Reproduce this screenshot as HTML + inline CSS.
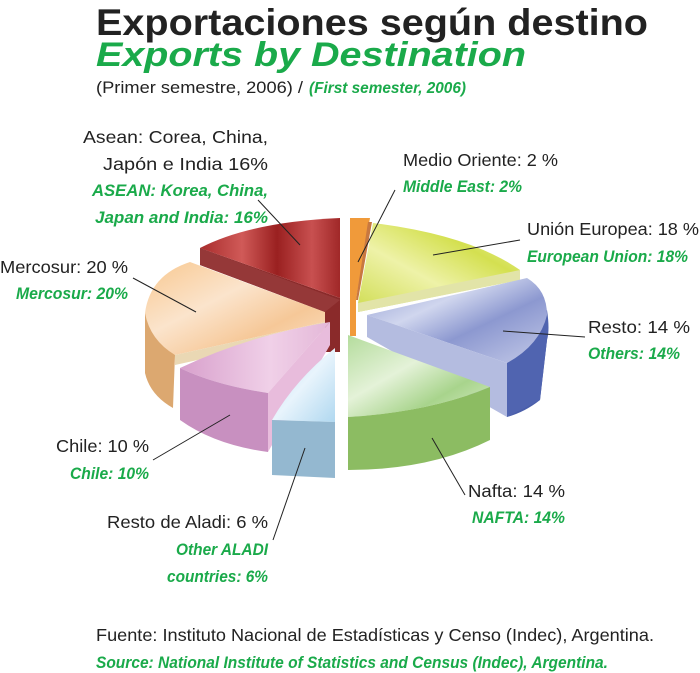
<!DOCTYPE html>
<html><head><meta charset="utf-8"><style>
html,body{margin:0;padding:0;background:#fff;}
svg{display:block;}
text{font-family:"Liberation Sans",sans-serif;}
.b{font-size:17.5px;fill:#222;}
.g{font-size:16.5px;fill:#1aaa4a;font-weight:bold;font-style:italic;}
</style></head><body>
<svg width="700" height="673" viewBox="0 0 700 673" xmlns="http://www.w3.org/2000/svg">
<defs>
<linearGradient id="red" x1="0" y1="0" x2="1" y2="0"><stop offset="0" stop-color="#a82c2c"/><stop offset=".3" stop-color="#d05a58"/><stop offset=".55" stop-color="#9a2020"/><stop offset=".8" stop-color="#c85050"/><stop offset="1" stop-color="#a02828"/></linearGradient>
<linearGradient id="yg" x1="0" y1="1" x2="1" y2="0"><stop offset="0" stop-color="#cfdc50"/><stop offset=".4" stop-color="#eef2a8"/><stop offset=".7" stop-color="#d4e050"/><stop offset="1" stop-color="#f0f4b8"/></linearGradient>
<linearGradient id="bl" x1="0" y1="0" x2="1" y2="1"><stop offset="0" stop-color="#8c98d0"/><stop offset=".35" stop-color="#d0d6ee"/><stop offset=".6" stop-color="#8c98d0"/><stop offset="1" stop-color="#c4cae8"/></linearGradient>
<linearGradient id="gr" x1="0" y1="0" x2="1" y2="1"><stop offset="0" stop-color="#b4dc9c"/><stop offset=".4" stop-color="#e4f2d8"/><stop offset=".7" stop-color="#a8d48c"/><stop offset="1" stop-color="#d8ecc8"/></linearGradient>
<linearGradient id="pe" x1="0" y1="0" x2="1" y2="1"><stop offset="0" stop-color="#f8c890"/><stop offset=".4" stop-color="#fbe4cc"/><stop offset=".7" stop-color="#f6c898"/><stop offset="1" stop-color="#fae0c4"/></linearGradient>
<linearGradient id="pk" x1="0" y1="0" x2="1" y2="0"><stop offset="0" stop-color="#d8a0cc"/><stop offset=".6" stop-color="#f0d0e8"/><stop offset="1" stop-color="#e4b8d8"/></linearGradient>
<linearGradient id="lb" x1="0" y1="0" x2="1" y2="1"><stop offset="0" stop-color="#b8dcf4"/><stop offset=".5" stop-color="#e8f4fc"/><stop offset="1" stop-color="#b0d8f0"/></linearGradient>
</defs>

<text x="96" y="35" textLength="552" lengthAdjust="spacingAndGlyphs" style="font-size:37px;font-weight:bold;fill:#222">Exportaciones según destino</text>
<text x="96" y="66" textLength="430" lengthAdjust="spacingAndGlyphs" style="font-size:34px;font-weight:bold;font-style:italic;fill:#1aaa4a">Exports by Destination</text>
<text x="96" y="93" textLength="207" lengthAdjust="spacingAndGlyphs" style="font-size:17px;fill:#222">(Primer semestre, 2006) /</text>
<text x="309" y="93" textLength="157" lengthAdjust="spacingAndGlyphs" style="font-size:16px;fill:#1aaa4a;font-style:italic;font-weight:bold">(First semester, 2006)</text>

<path d="M145,313 L145,373 Q150,395 173,408 L175,355 Z" fill="#dca870"/>
<path d="M145,313 Q150,275 190,262 L325,312 L325,322 L175,355 Q150,340 145,313 Z" fill="url(#pe)"/>
<path d="M175,355 L325,322 L325,332 L175,365 Z" fill="#ead8b4"/>
<path d="M200,248 L200,265 L325,312 L325,352 L340,352 L340,298 Z" fill="#8a2a2a"/>
<path d="M200,248 Q250,222 340,218 L340,298 Z" fill="url(#red)"/>
<path d="M200,248 L200,265 L325,312 L340,300 Z" fill="#953838"/>
<path d="M350,218 L370,218 L356,300 L356,336 L350,336 Z" fill="#f09a3a"/>
<path d="M368,222 L372,222 L358,300 L356,300 Z" fill="#c87840"/>
<path d="M358,303 L373,223 Q470,235 520,270 L520,280 L358,312 Z" fill="url(#yg)"/>
<path d="M358,303 L520,270 L520,280 L358,312 Z" fill="#e2e4a8"/>
<path d="M507,363 L547,340 L540,400 Q525,412 507,417 Z" fill="#4a5eaa"/>
<path d="M547,310 Q550,330 547,340 L540,400 L507,417 L507,363 Z" fill="#5064b0"/>
<path d="M367,315 L527,278 Q547,290 547,315 Q540,345 507,363 Z" fill="url(#bl)"/>
<path d="M367,315 L367,337 L507,417 L507,363 Z" fill="#b4bce0"/>
<path d="M348,335 L490,387 Q430,412 348,417 Z" fill="url(#gr)"/>
<path d="M348,417 Q430,412 490,387 L490,440 Q430,470 348,470 Z" fill="#8cbc62"/>
<path d="M180,368 Q250,335 330,322 L268,393 Q215,385 180,368 Z" fill="url(#pk)"/>
<path d="M180,368 Q215,385 268,393 L268,452 Q215,445 180,420 Z" fill="#c890c0"/>
<path d="M268,393 L330,322 L330,345 L268,452 Z" fill="#e8bcdc"/>
<path d="M335,348 L335,422 L272,420 Q295,380 335,348 Z" fill="url(#lb)"/>
<path d="M272,420 L335,422 L335,478 L272,475 Z" fill="#94b8d0"/>

<g stroke="#222" stroke-width="1" fill="none">
<line x1="300" y1="245" x2="258" y2="200"/>
<line x1="358" y1="262" x2="395" y2="190"/>
<line x1="433" y1="255" x2="520" y2="240"/>
<line x1="503" y1="331" x2="585" y2="337"/>
<line x1="196" y1="312" x2="133" y2="278"/>
<line x1="230" y1="415" x2="153" y2="460"/>
<line x1="305" y1="448" x2="273" y2="540"/>
<line x1="432" y1="438" x2="465" y2="495"/>
</g>

<g class="b">
<text x="83" y="143" textLength="185" lengthAdjust="spacingAndGlyphs">Asean: Corea, China,</text>
<text x="103" y="170" textLength="165" lengthAdjust="spacingAndGlyphs">Japón e India 16%</text>
<text x="403" y="166" textLength="155" lengthAdjust="spacingAndGlyphs">Medio Oriente: 2 %</text>
<text x="527" y="235" textLength="172" lengthAdjust="spacingAndGlyphs">Unión Europea: 18 %</text>
<text x="588" y="333" textLength="102" lengthAdjust="spacingAndGlyphs">Resto: 14 %</text>
<text x="0" y="273" textLength="128" lengthAdjust="spacingAndGlyphs">Mercosur: 20 %</text>
<text x="56" y="452" textLength="93" lengthAdjust="spacingAndGlyphs">Chile: 10 %</text>
<text x="468" y="497" textLength="97" lengthAdjust="spacingAndGlyphs">Nafta: 14 %</text>
<text x="107" y="528" textLength="161" lengthAdjust="spacingAndGlyphs">Resto de Aladi: 6 %</text>
<text x="96" y="641" textLength="558" lengthAdjust="spacingAndGlyphs">Fuente: Instituto Nacional de Estadísticas y Censo (Indec), Argentina.</text>
</g>
<g class="g">
<text x="92" y="196" textLength="176" lengthAdjust="spacingAndGlyphs">ASEAN: Korea, China,</text>
<text x="95" y="223" textLength="173" lengthAdjust="spacingAndGlyphs">Japan and India: 16%</text>
<text x="403" y="192" textLength="119" lengthAdjust="spacingAndGlyphs">Middle East: 2%</text>
<text x="527" y="262" textLength="161" lengthAdjust="spacingAndGlyphs">European Union: 18%</text>
<text x="588" y="359" textLength="92" lengthAdjust="spacingAndGlyphs">Others: 14%</text>
<text x="16" y="299" textLength="112" lengthAdjust="spacingAndGlyphs">Mercosur: 20%</text>
<text x="70" y="479" textLength="79" lengthAdjust="spacingAndGlyphs">Chile: 10%</text>
<text x="472" y="523" textLength="93" lengthAdjust="spacingAndGlyphs">NAFTA: 14%</text>
<text x="176" y="555" textLength="92" lengthAdjust="spacingAndGlyphs">Other ALADI</text>
<text x="167" y="582" textLength="101" lengthAdjust="spacingAndGlyphs">countries: 6%</text>
<text x="96" y="668" textLength="512" lengthAdjust="spacingAndGlyphs">Source: National Institute of Statistics and Census (Indec), Argentina.</text>
</g>
</svg>
</body></html>
